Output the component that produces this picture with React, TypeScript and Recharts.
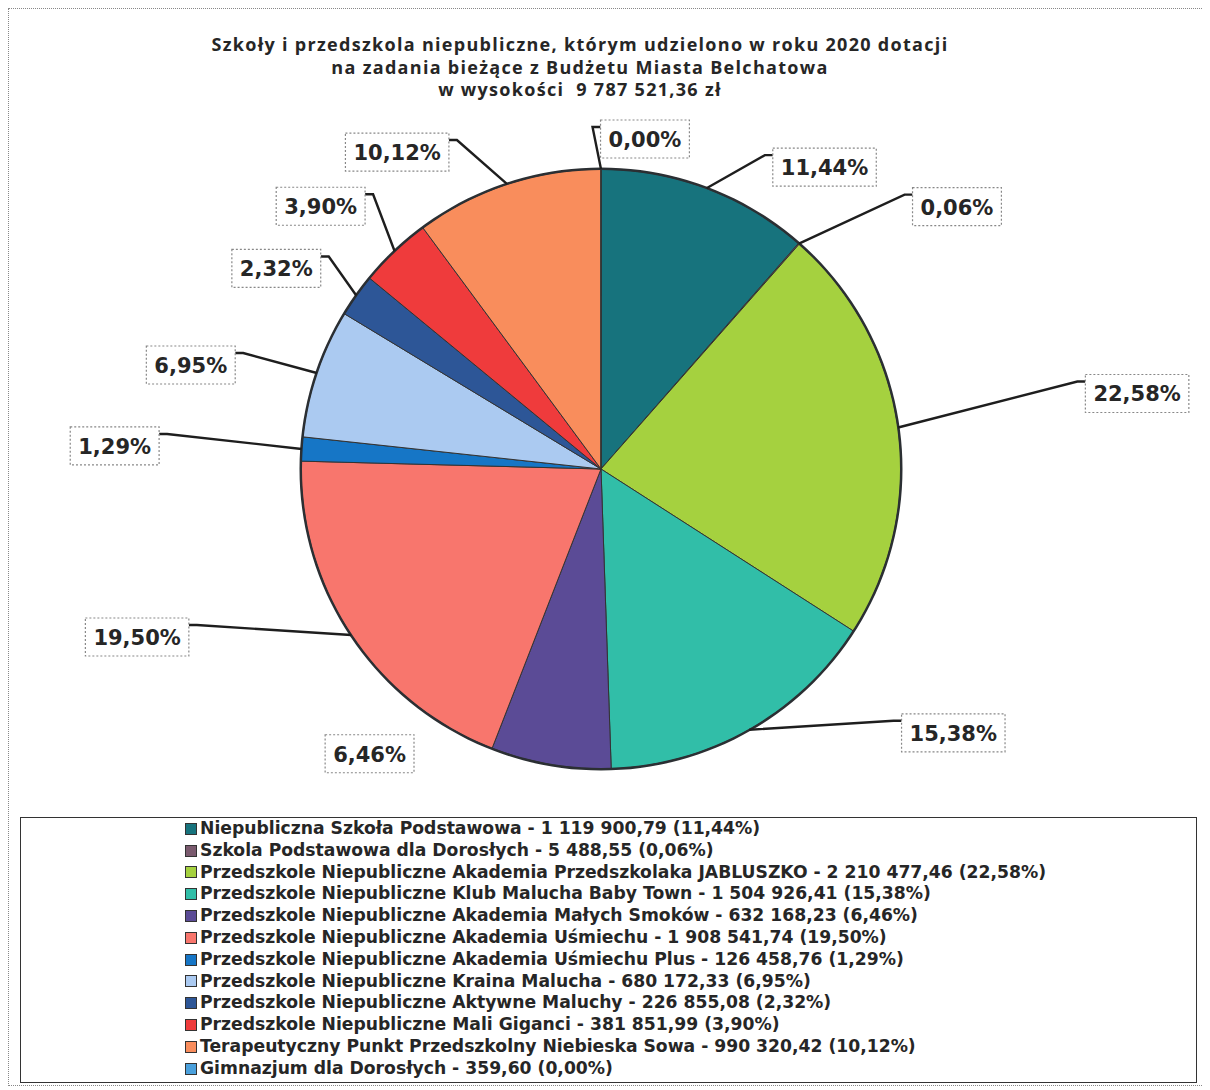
import React from 'react';
import { PieChart, Pie, Cell, Legend } from 'recharts';

const names = [
  'Niepubliczna Szkoła Podstawowa',
  'Szkola Podstawowa dla Dorosłych',
  'Przedszkole Niepubliczne Akademia Przedszkolaka JABLUSZKO',
  'Przedszkole Niepubliczne Klub Malucha Baby Town',
  'Przedszkole Niepubliczne Akademia Małych Smoków',
  'Przedszkole Niepubliczne Akademia Uśmiechu',
  'Przedszkole Niepubliczne Akademia Uśmiechu Plus',
  'Przedszkole Niepubliczne Kraina Malucha',
  'Przedszkole Niepubliczne Aktywne Maluchy',
  'Przedszkole Niepubliczne Mali Giganci',
  'Terapeutyczny Punkt Przedszkolny Niebieska Sowa',
  'Gimnazjum dla Dorosłych',
];

const values = [
  1119900.79, 5488.55, 2210477.46, 1504926.41, 632168.23, 1908541.74,
  126458.76, 680172.33, 226855.08, 381851.99, 990320.42, 359.6,
];

const colors = [
  '#17737d', '#7a5a6e', '#a5d13f', '#31bea8', '#5b4b96', '#f8766d',
  '#1676c6', '#abcaf1', '#2d5697', '#ef3b3c', '#f98d5c', '#4aa0dc',
];

const titleLines = [
  'Szkoły i przedszkola niepubliczne, którym udzielono w roku 2020 dotacji',
  'na zadania bieżące z Budżetu Miasta Belchatowa',
  'w wysokości  9 787 521,36 zł',
];

// label box offset from the slice's arc point (layout only)
const labelOffsets: [number, number][] = [
  [118, -21], [158, -37], [239, -34], [204, 3], [-181, -11], [-214, 2],
  [-187, -3], [-126, -8], [-80, -27], [-74, -45], [-110, -32], [44, -30],
];
const leaderVisible = [true, true, true, true, false, true, true, true, true, true, true, true];

const data = names.map((name, i) => ({ name, value: values[i] }));
const rim = [{ name: 'rim', value: 1 }];

const RAD = Math.PI / 180;
const pctText = (p: number) => (p * 100).toFixed(2).replace('.', ',') + '%';
const fmtNum = (v: number) => {
  const [int, dec] = v.toFixed(2).split('.');
  return int.replace(/\B(?=(\d{3})+(?!\d))/g, ' ') + ',' + dec;
};
const total = values.reduce((a, b) => a + b, 0);

const LABEL_FS = 21;
const textWidth = (t: string) => {
  let w = 0;
  for (const ch of t) {
    if (ch === ',') w += 0.38;
    else if (ch === '%') w += 1.002;
    else w += 0.696;
  }
  return w * LABEL_FS;
};

const renderLabel = (props: any) => {
  const { cx, cy, midAngle, outerRadius, index, percent } = props;
  const ax = cx + outerRadius * Math.cos(-midAngle * RAD);
  const ay = cy + outerRadius * Math.sin(-midAngle * RAD);
  const [dx, dy] = labelOffsets[index];
  const text = pctText(percent);
  const w = textWidth(text) + 16;
  const h = 38;
  const bx = ax + dx - w / 2;
  const by = ay + dy - h / 2;
  const right = dx > 0;
  const attachX = right ? bx : bx + w;
  const attachY = by + 7;
  const elbowX = right ? attachX - 8 : attachX + 8;
  return (
    <g key={'lbl' + index}>
      {leaderVisible[index] && (
        <polyline
          points={`${ax},${ay} ${elbowX},${attachY} ${attachX},${attachY}`}
          fill="none"
          stroke="#1e1e1e"
          strokeWidth={2.4}
        />
      )}
      <rect x={bx} y={by} width={w} height={h} fill="#fff" stroke="#888" strokeWidth={1.2} strokeDasharray="2 2" />
      <text
        x={bx + w / 2}
        y={by + h / 2 + 1}
        textAnchor="middle"
        dominantBaseline="central"
        fontFamily="DejaVu Sans"
        fontWeight="bold"
        fontSize={LABEL_FS}
        fill="#262626"
      >
        {text}
      </text>
    </g>
  );
};

const LegendBox = () => (
  <div
    style={{
      width: '100%',
      height: '100%',
      border: '1.5px solid #333',
      boxSizing: 'border-box',
      paddingLeft: 164,
      paddingTop: 0,
      fontFamily: 'DejaVu Sans',
      fontWeight: 'bold',
      fontSize: 17.2,
      color: '#262626',
      textAlign: 'left',
    }}
  >
    {names.map((n, i) => (
      <div
        key={n}
        style={{ height: 21.8, lineHeight: '21.8px', display: 'flex', alignItems: 'center', whiteSpace: 'nowrap' }}
      >
        <span
          style={{
            width: 10,
            height: 10,
            background: colors[i],
            border: '1px solid #333',
            marginRight: 3,
            flex: 'none',
          }}
        />
        {`${n} - ${fmtNum(values[i])} (${pctText(values[i] / total)})`}
      </div>
    ))}
  </div>
);

export default function App() {
  return (
    <div
      style={{
        position: 'relative',
        width: 1196,
        height: 1076,
        border: '1px dotted #888',
        background: '#fff',
      }}
    >
      <div
        style={{
          position: 'absolute',
          left: 0,
          top: 24,
          width: 1142,
          textAlign: 'center',
          fontFamily: 'Open Sans',
          fontWeight: 'bold',
          fontSize: 18,
          letterSpacing: 1.3,
          lineHeight: '22.5px',
          color: '#262626',
          zIndex: 2,
        }}
      >
        {titleLines.map((t) => (
          <div key={t} style={{ whiteSpace: 'pre' }}>{t}</div>
        ))}
      </div>
      <PieChart width={1196} height={1076} margin={{ top: 0, right: 0, bottom: 0, left: 0 }}>
        <Pie
          data={data}
          dataKey="value"
          nameKey="name"
          cx={592}
          cy={460}
          outerRadius={300}
          startAngle={90}
          endAngle={-270}
          stroke="#333"
          strokeWidth={1}
          labelLine={false}
          label={renderLabel}
          isAnimationActive={false}
        >
          {data.map((d, i) => (
            <Cell key={d.name} fill={colors[i]} />
          ))}
        </Pie>
        <Pie
          data={rim}
          dataKey="value"
          cx={592}
          cy={460}
          innerRadius={299}
          outerRadius={301.5}
          startAngle={90}
          endAngle={-270}
          fill="#2b2f33"
          stroke="none"
          legendType="none"
          isAnimationActive={false}
        />
        <Legend
          verticalAlign="bottom"
          content={() => <LegendBox />}
          wrapperStyle={{ position: 'absolute', left: 11, top: 808, bottom: 'auto', width: 1177, height: 266 }}
        />
      </PieChart>
    </div>
  );
}
